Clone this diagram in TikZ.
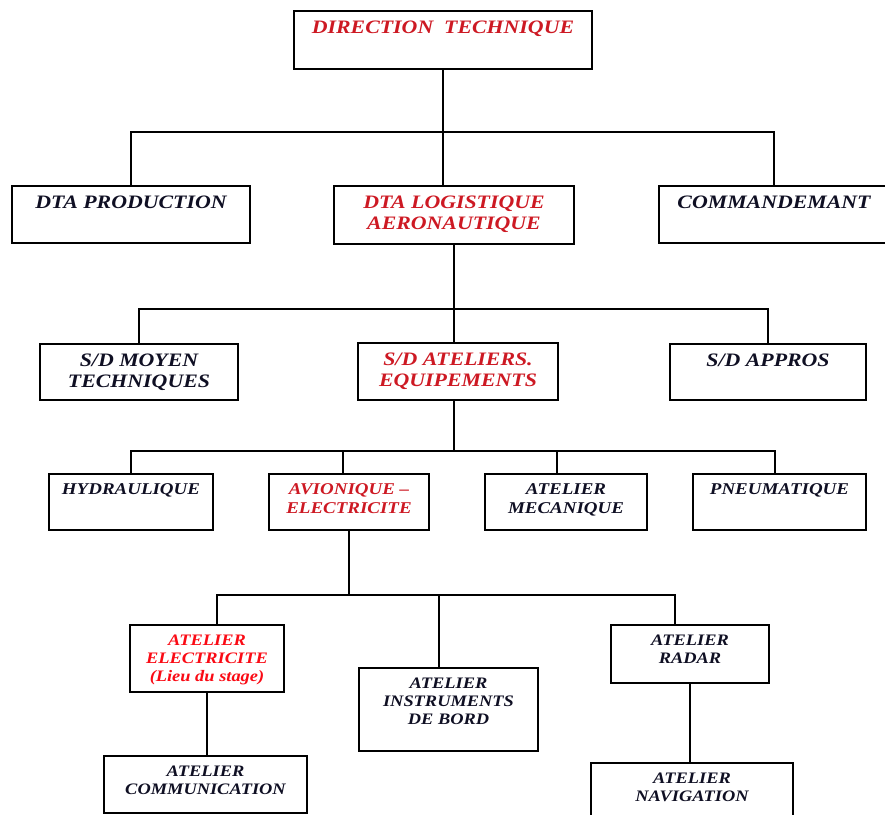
\documentclass[tikz,border=0pt]{standalone}
\usepackage{fontspec}
\setmainfont{Liberation Serif}[FakeStretch=1.15]
\definecolor{titlered}{RGB}{205,25,35}
\definecolor{stagered}{RGB}{250,10,20}
\definecolor{inkblue}{RGB}{15,15,35}
% text block pinned to the top of a box of given width/height
\newcommand{\boxtext}[3]{\parbox[t][#2pt][t]{#1pt}{\centering\vspace*{10pt}#3}}

\begin{document}
\begin{tikzpicture}[
  x=1pt, y=-1pt,
  box/.style={draw, line width=2pt, inner sep=0pt, anchor=north west, text=inkblue},
  lvlone/.style={font=\fontsize{19}{20.5}\selectfont\bfseries\itshape},
  lvlfour/.style={font=\fontsize{16.5}{18.5}\selectfont\bfseries\itshape},
  lvlfive/.style={font=\fontsize{16}{18}\selectfont\bfseries\itshape},
  hot/.style={text=titlered},
  stage/.style={text=stagered},
  link/.style={draw, line width=2pt}
]
\useasboundingbox (0,0) rectangle (885,814);
\clip (0,0) rectangle (885,814);

% top
\node[box, lvlone, hot] (dir) at (293,10) {\boxtext{298}{58}{DIRECTION\ \ TECHNIQUE}};

% DTA level
\node[box, lvlone] (dtaprod) at (11,185) {\boxtext{238}{57}{DTA PRODUCTION}};
\node[box, lvlone, hot] (dtalog) at (333,185) {\boxtext{240}{58}{DTA LOGISTIQUE\\AERONAUTIQUE}};
\node[box, lvlone] (cmd) at (658,185) {\boxtext{230}{57}{COMMANDEMANT}};

% S/D level
\node[box, lvlone] (sdmoy) at (39,343) {\boxtext{198}{56}{S/D MOYEN\\TECHNIQUES}};
\node[box, lvlone, hot] (sdatel) at (357,342) {\boxtext{200}{57}{S/D ATELIERS.\\EQUIPEMENTS}};
\node[box, lvlone] (sdappro) at (669,343) {\boxtext{196}{56}{S/D APPROS}};

% ateliers
\node[box, lvlfour] (hydr) at (48,473) {\boxtext{164}{56}{HYDRAULIQUE}};
\node[box, lvlfour, hot] (avion) at (268,473) {\boxtext{160}{56}{AVIONIQUE --\\ELECTRICITE}};
\node[box, lvlfour] (meca) at (484,473) {\boxtext{162}{56}{ATELIER\\MECANIQUE}};
\node[box, lvlfour] (pneu) at (692,473) {\boxtext{173}{56}{PNEUMATIQUE}};

% avionique sections
\node[box, lvlfive, stage] (elec) at (129,624) {\boxtext{154}{67}{ATELIER\\ELECTRICITE\\(Lieu du stage)}};
\node[box, lvlfive] (instr) at (358,667) {\boxtext{179}{83}{ATELIER\\INSTRUMENTS\\DE BORD}};
\node[box, lvlfive] (radar) at (610,624) {\boxtext{158}{58}{ATELIER\\RADAR}};
\node[box, lvlfive] (comm) at (103,755) {\boxtext{203}{57}{ATELIER\\COMMUNICATION}};
\node[box, lvlfive] (nav) at (590,762) {\boxtext{202}{62}{ATELIER\\NAVIGATION}};

% buses
\coordinate (bus1) at (0,132);
\coordinate (bus2) at (0,309);
\coordinate (bus3) at (0,451);
\coordinate (bus4) at (0,595);
\coordinate (avion-in) at ([xshift=-6pt]avion.north);
\coordinate (meca-in) at ([xshift=-9pt]meca.north);
\coordinate (pneu-in) at ([xshift=-4.5pt]pneu.north);
\coordinate (elec-in) at ([xshift=10pt]elec.north);
\coordinate (instr-in) at ([xshift=-9.5pt]instr.north);
\coordinate (radar-in) at ([xshift=-15pt]radar.north);

\draw[link] (dir.south) -- (dir.south |- dtalog.north);
\draw[link] (dtaprod.north) -- (dtaprod.north |- bus1) -- (cmd.north |- bus1) -- (cmd.north);

\draw[link] (dtalog.south) -- (dtalog.south |- sdatel.north);
\draw[link] (sdmoy.north) -- (sdmoy.north |- bus2) -- (sdappro.north |- bus2) -- (sdappro.north);

\draw[link] (dtalog.south |- sdatel.south) -- (dtalog.south |- bus3);
\draw[link] (hydr.north) -- (hydr.north |- bus3) -- (pneu-in |- bus3) -- (pneu-in);
\draw[link] (avion-in) -- (avion-in |- bus3);
\draw[link] (meca-in) -- (meca-in |- bus3);

\draw[link] (avion.south) -- (avion.south |- bus4);
\draw[link] (elec-in) -- (elec-in |- bus4) -- (radar-in |- bus4) -- (radar-in);
\draw[link] (instr-in) -- (instr-in |- bus4);

\draw[link] (elec.south) -- (elec.south |- comm.north);
\draw[link] (radar.south) -- (radar.south |- nav.north);
\end{tikzpicture}
\end{document}
